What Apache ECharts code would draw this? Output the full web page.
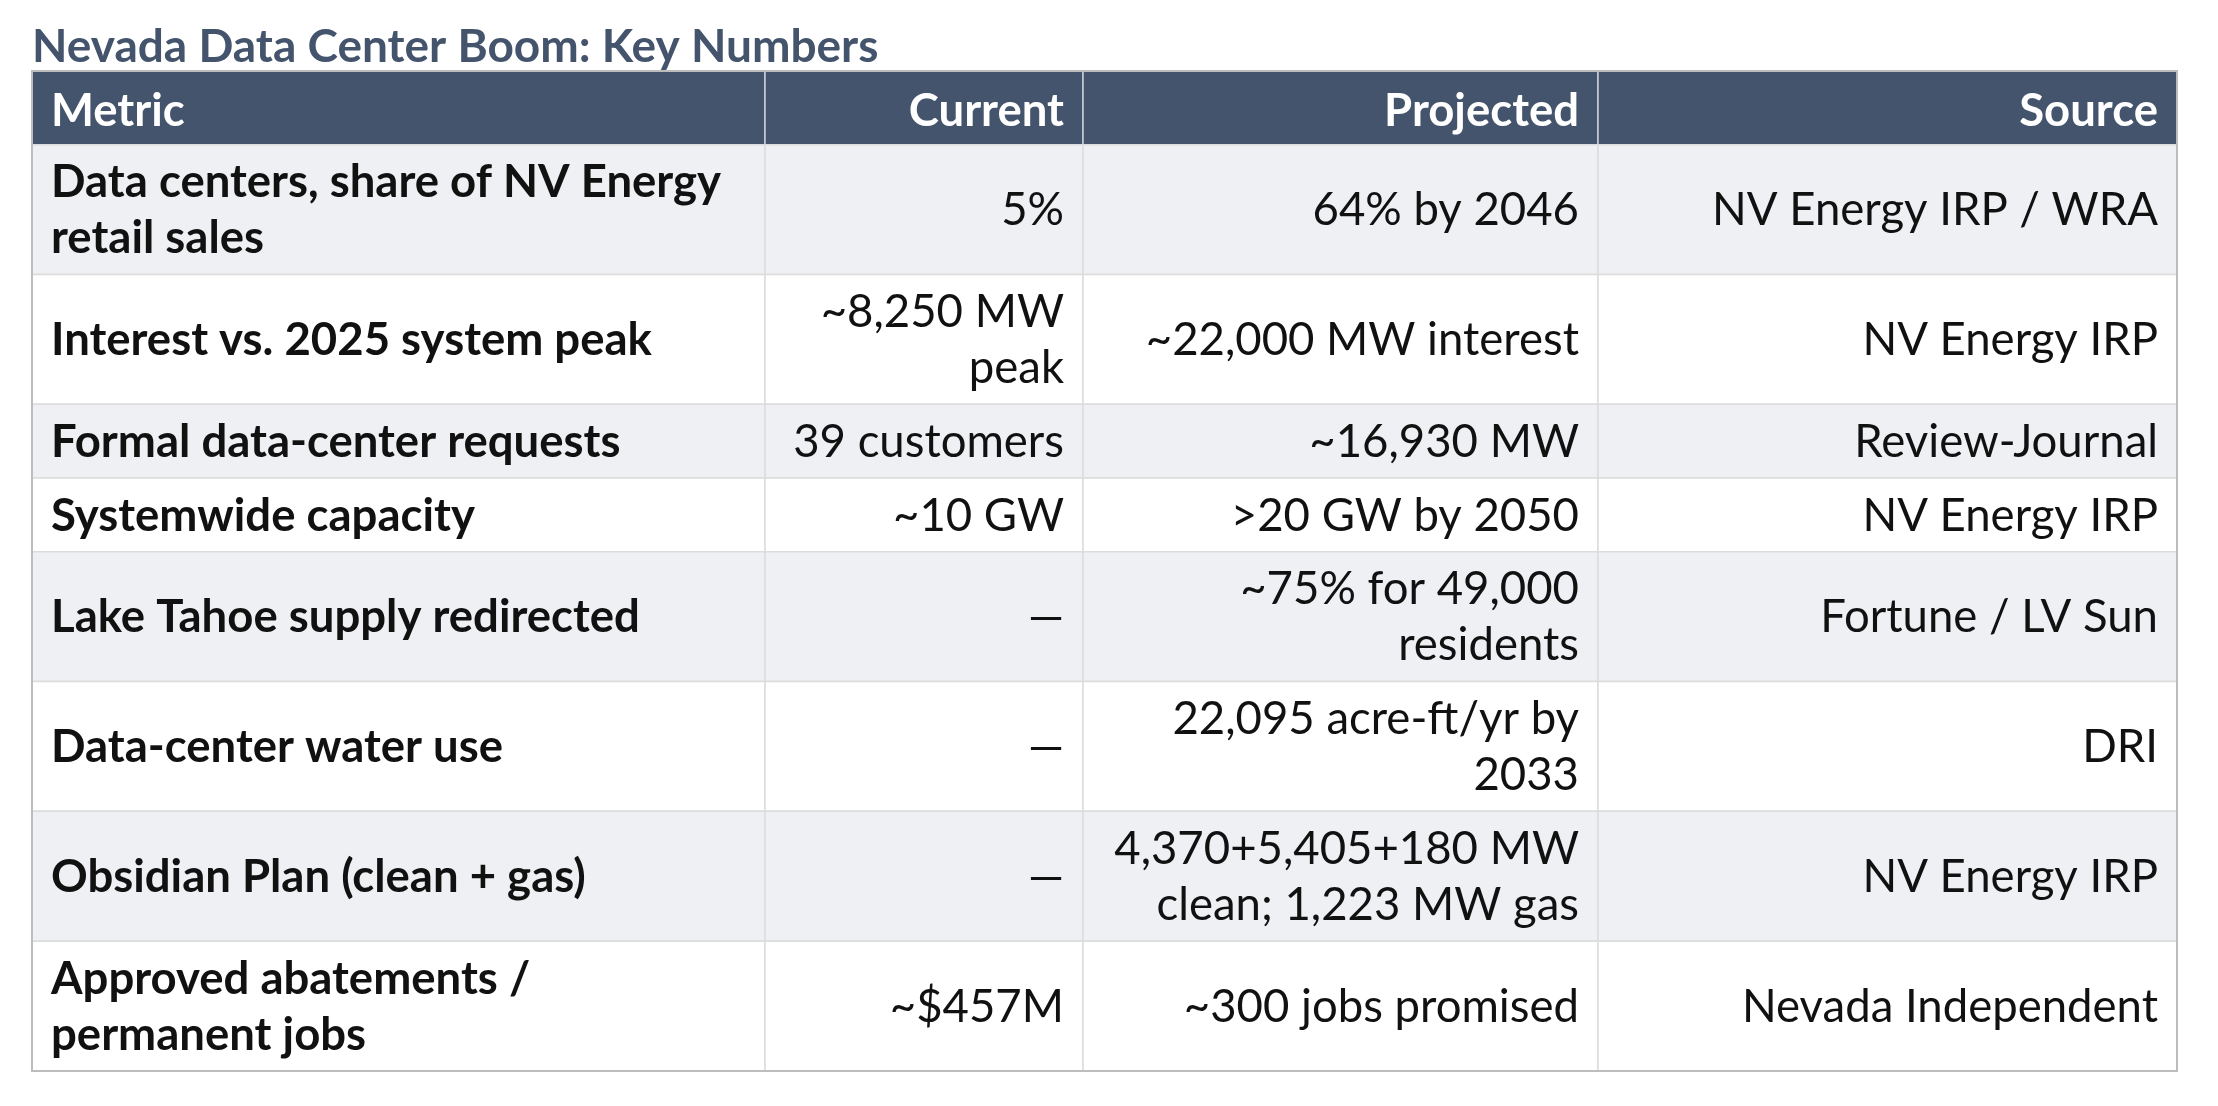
<!DOCTYPE html>
<html>
<head>
<meta charset="utf-8">
<title>Nevada Data Center Boom: Key Numbers</title>
<script src="https://cdn.jsdelivr.net/npm/echarts@6/dist/echarts.min.js"></script>
<style>
  html, body { margin: 0; padding: 0; background: #fff; }
  #chart { width: 2218px; height: 1106px; }
</style>
</head>
<body>
<div id="chart"></div>
<script>
// table content
const chartTitle = 'Nevada Data Center Boom: Key Numbers';
const headers = ['Metric', 'Current', 'Projected', 'Source'];
const metrics = [
    'Data centers, share of NV Energy\nretail sales',
    'Interest vs. 2025 system peak',
    'Formal data-center requests',
    'Systemwide capacity',
    'Lake Tahoe supply redirected',
    'Data-center water use',
    'Obsidian Plan (clean + gas)',
    'Approved abatements /\npermanent jobs'
];
const currentValues = [
    '5%',
    '~8,250 MW\npeak',
    '39 customers',
    '~10 GW',
    '—',
    '—',
    '—',
    '~$457M'
];
const projectedValues = [
    '64% by 2046',
    '~22,000 MW interest',
    '~16,930 MW',
    '>20 GW by 2050',
    '~75% for 49,000\nresidents',
    '22,095 acre-ft/yr by\n2033',
    '4,370+5,405+180 MW\nclean; 1,223 MW gas',
    '~300 jobs promised'
];
const sources = [
    'NV Energy IRP / WRA',
    'NV Energy IRP',
    'Review-Journal',
    'NV Energy IRP',
    'Fortune / LV Sun',
    'DRI',
    'NV Energy IRP',
    'Nevada Independent'
];

// layout (pixels of the table)
const colWidths = [733, 318, 515, 579];
const lineH = 56;
const rowPad = 17.5;
const cellPadX = 19;
const fontSize = 45.5;

function initChart() {
    const chart = echarts.init(document.getElementById('chart'), null, { renderer: 'canvas' });

    // rows: header first, then body
    const rows = [headers];
    for (let i = 0; i < metrics.length; i++) {
        rows.push([metrics[i], currentValues[i], projectedValues[i], sources[i]]);
    }

    // column / row boundaries in table units
    const colEdges = [0];
    colWidths.forEach(w => colEdges.push(colEdges[colEdges.length - 1] + w));
    const rowEdges = [0];
    rows.forEach(r => {
        const lines = Math.max(...r.map(t => t.split('\n').length));
        rowEdges.push(rowEdges[rowEdges.length - 1] + lines * lineH + rowPad);
    });
    const totalW = colEdges[colEdges.length - 1];
    const totalH = rowEdges[rowEdges.length - 1];

    const cells = [];
    rows.forEach((r, ri) => r.forEach((t, ci) => cells.push([ci, ri])));

    const option = {
        animation: false,
        backgroundColor: '#ffffff',
        title: {
            text: chartTitle,
            left: 24,
            top: 16,
            padding: 8,
            textStyle: {
                fontFamily: 'Lato',
                fontWeight: 'bold',
                fontSize: 46,
                color: '#44546c'
            }
        },
        grid: { left: 32, right: 41, top: 71, bottom: 35 },
        xAxis: { type: 'value', min: 0, max: totalW, show: false },
        yAxis: { type: 'value', min: 0, max: totalH, inverse: true, show: false },
        series: [
            {
                type: 'custom',
                coordinateSystem: 'cartesian2d',
                data: cells,
                renderItem: function (params, api) {
                    const ci = api.value(0);
                    const ri = api.value(1);
                    const p0 = api.coord([colEdges[ci], rowEdges[ri]]);
                    const p1 = api.coord([colEdges[ci + 1], rowEdges[ri + 1]]);
                    const isHeader = ri === 0;
                    let fill = '#ffffff';
                    if (isHeader) fill = '#44546c';
                    else if (ri % 2 === 1) fill = '#eef0f3';
                    const text = rows[ri][ci];
                    const leftAlign = ci === 0;
                    return {
                        type: 'group',
                        children: [
                            {
                                type: 'rect',
                                shape: { x: p0[0], y: p0[1], width: p1[0] - p0[0], height: p1[1] - p0[1] },
                                style: {
                                    fill: fill,
                                    stroke: isHeader ? '#c9ced6' : '#dcdcdc',
                                    lineWidth: 1.5
                                }
                            },
                            {
                                type: 'text',
                                x: leftAlign ? p0[0] + cellPadX : p1[0] - cellPadX,
                                y: (p0[1] + p1[1]) / 2 + (isHeader ? 3 : 1),
                                style: {
                                    text: text,
                                    align: leftAlign ? 'left' : 'right',
                                    verticalAlign: 'middle',
                                    fontFamily: 'Lato',
                                    fontSize: fontSize,
                                    lineHeight: lineH,
                                    fontWeight: (isHeader || leftAlign) ? 'bold' : 'normal',
                                    fill: isHeader ? '#ffffff' : '#111111'
                                }
                            }
                        ]
                    };
                }
            },
            {
                // outer frame of the table
                type: 'custom',
                coordinateSystem: 'cartesian2d',
                z: 5,
                data: [[0, 0]],
                renderItem: function (params, api) {
                    const p0 = api.coord([0, 0]);
                    const p1 = api.coord([totalW, totalH]);
                    return {
                        type: 'rect',
                        shape: { x: p0[0], y: p0[1], width: p1[0] - p0[0], height: p1[1] - p0[1] },
                        style: { fill: null, stroke: '#bdbdbd', lineWidth: 2 }
                    };
                }
            }
        ]
    };

    chart.setOption(option);
}

window.addEventListener('load', initChart);
</script>
</body>
</html>
